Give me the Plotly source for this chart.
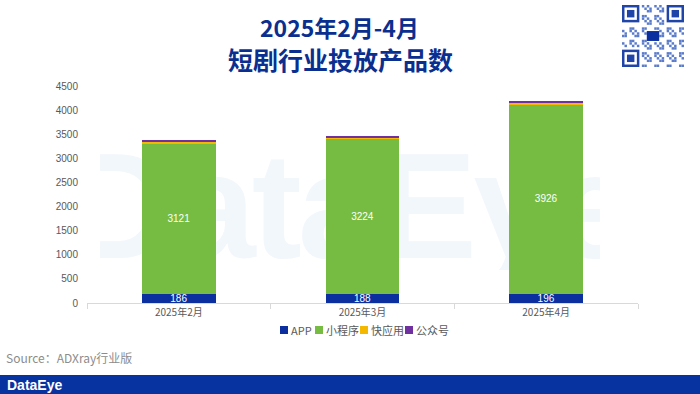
import base64
import plotly.graph_objects as go

# ---------------- data ----------------
months = ["2025年2月", "2025年3月", "2025年4月"]
series_names = ["APP", "小程序", "快应用", "公众号"]
app_vals = [186, 188, 196]
mini_vals = [3121, 3224, 3926]
quick_vals = [35, 25, 30]
gzh_vals = [20, 22, 31]
colors = ["#0B2F9F", "#76BC43", "#F5B800", "#7030A0"]
y_ticks = [0, 500, 1000, 1500, 2000, 2500, 3000, 3500, 4000, 4500]

FONT = "Liberation Sans, Arial, Noto Sans CJK SC, sans-serif"
CJK = "Noto Sans CJK SC, Liberation Sans, sans-serif"

W, H = 700, 394
L, R, T, B = 87, 62, 86, 91
PW, PH = W - L - R, H - T - B


def px(x):
    return (x - L) / PW


def py(y):
    return (H - B - y) / PH


fig = go.Figure()
all_vals = [app_vals, mini_vals, quick_vals, gzh_vals]
for i, (name, vals) in enumerate(zip(series_names, all_vals)):
    show_text = i < 2
    fig.add_trace(go.Bar(
        x=months, y=vals, name=name,
        marker=dict(color=colors[i], line=dict(width=0)),
        text=[str(v) for v in vals] if show_text else None,
        textposition="inside" if show_text else "none",
        insidetextanchor="middle",
        constraintext="none",
        textfont=dict(color="white", size=10, family=FONT),
        showlegend=False,
    ))

fig.update_layout(
    barmode="stack",
    bargap=0.6,
    width=W, height=H,
    margin=dict(l=L, r=R, t=T, b=B, pad=0, autoexpand=False),
    paper_bgcolor="rgba(0,0,0,0)",
    plot_bgcolor="rgba(0,0,0,0)",
    font=dict(family=FONT, color="#595959", size=10),
    uniformtext=dict(minsize=10, mode="show"),
    xaxis=dict(
        showgrid=False, showline=True, linecolor="#D9D9D9", linewidth=1,
        ticks="outside", tickson="boundaries", ticklen=5, tickcolor="#D9D9D9",
        tickfont=dict(size=10, color="#595959", family=CJK),
    ),
    yaxis=dict(
        range=[0, 4500], tickvals=y_ticks, showgrid=False, zeroline=False,
        showline=False, tickfont=dict(size=10, color="#595959", family=FONT),
        ticklabelstandoff=8,
    ),
)

# ---------------- watermark (below traces) ----------------
svg = ("<svg xmlns='http://www.w3.org/2000/svg' width='500' height='130'>"
       "<text x='250' y='118' font-family='Liberation Sans, Arial, sans-serif' font-weight='bold' "
       "font-size='150' fill='#F2F7FC' text-anchor='middle' letter-spacing='-4'>DataEye</text></svg>")
uri = "data:image/svg+xml;base64," + base64.b64encode(svg.encode()).decode()
fig.add_layout_image(dict(
    source=uri, xref="paper", yref="paper", x=px(100), y=py(140),
    sizex=500 / PW, sizey=130 / PH, xanchor="left", yanchor="top",
    sizing="stretch", layer="below",
))

# ---------------- title ----------------
fig.add_annotation(text="<b>2025年2月-4月</b>", x=px(339), y=py(27), xref="paper", yref="paper",
                   xanchor="center", yanchor="middle", showarrow=False,
                   font=dict(size=23, color="#0B2F8F", family=CJK))
fig.add_annotation(text="<b>短剧行业投放产品数</b>", x=px(340), y=py(59), xref="paper", yref="paper",
                   xanchor="center", yanchor="middle", showarrow=False,
                   font=dict(size=25, color="#0B2F8F", family=CJK))

# ---------------- custom legend ----------------
leg_x = [280, 315, 360, 405]
for i, name in enumerate(series_names):
    x0 = leg_x[i]
    fig.add_shape(type="rect", xref="paper", yref="paper",
                  x0=px(x0), x1=px(x0 + 8), y0=py(334), y1=py(326),
                  fillcolor=colors[i], line=dict(width=0))
    fig.add_annotation(text=name, x=px(x0 + 9), y=py(330), xref="paper", yref="paper",
                       xanchor="left", yanchor="middle", showarrow=False,
                       font=dict(size=11, color="#595959", family=CJK))

# ---------------- source ----------------
fig.add_annotation(text="Source：ADXray行业版", x=px(4), y=py(357), xref="paper", yref="paper",
                   xanchor="left", yanchor="middle", showarrow=False,
                   font=dict(size=12, color="#8C8C8C", family=CJK))

# ---------------- bottom banner ----------------
fig.add_shape(type="rect", xref="paper", yref="paper", x0=px(0), x1=px(700),
              y0=py(394), y1=py(375), fillcolor="#0733A0", line=dict(width=0))
fig.add_annotation(text="<b>DataEye</b>", x=px(5), y=py(385), xref="paper", yref="paper",
                   xanchor="left", yanchor="middle", showarrow=False,
                   font=dict(size=14, color="white", family=FONT))

# ---------------- QR code decoration ----------------
qx0, qy0, n = 622, 5, 25
cell = 62 / n
def qrect(c0, r0, c1, r1, color):
    fig.add_shape(type="rect", xref="paper", yref="paper",
                  x0=px(qx0 + c0 * cell), x1=px(qx0 + c1 * cell),
                  y0=py(qy0 + r1 * cell), y1=py(qy0 + r0 * cell),
                  fillcolor=color, line=dict(width=0))

for (c, r) in [(0, 0), (n - 7, 0), (0, n - 7)]:
    qrect(c, r, c + 7, r + 7, "#1F45A8")
    qrect(c + 1, r + 1, c + 6, r + 6, "white")
    qrect(c + 2, r + 2, c + 5, r + 5, "#1F45A8")
for r in range(n):
    for c in range(n):
        if (c < 8 and r < 8) or (c >= n - 8 and r < 8) or (c < 8 and r >= n - 8):
            continue
        if 10 <= c <= 14 and 10 <= r <= 14:
            continue
        if ((c * 7 + r * 13 + c * r) % 5) < 2:
            qrect(c, r, c + 1, r + 1, "#5A7CCB")
qrect(10, 10.5, 15, 14.5, "#0B2F9F")

fig.write_html(
    "out.html",
    config={"displayModeBar": False},
    post_script="document.body.style.margin='0';document.body.style.overflow='hidden';",
)
